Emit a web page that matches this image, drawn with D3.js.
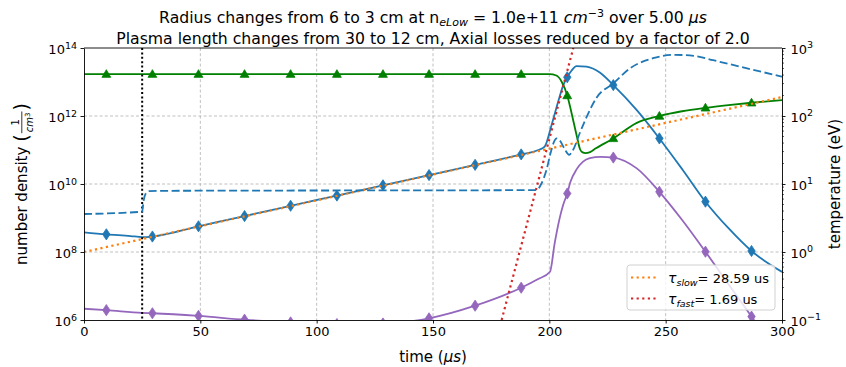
<!DOCTYPE html>
<html><head><meta charset="utf-8">
<script src="https://cdn.jsdelivr.net/npm/d3@7"></script>
<style>body{margin:0;background:#fff} text{font-family:"DejaVu Sans",sans-serif}</style>
</head><body><svg id="c" width="846" height="367"></svg>
<script>
// ---------------- data ----------------
const titleLines = [
  "Radius changes from 6 to 3 cm at n_eLow = 1.0e+11 cm^-3 over 5.00 µs",
  "Plasma length changes from 30 to 12 cm, Axial losses reduced by a factor of 2.0"
];
const xTicks = [0, 50, 100, 150, 200, 250, 300];
const densTicks = [1e6, 1e8, 1e10, 1e12, 1e14];
const tempTicks = [1e-1, 1e0, 1e1, 1e2, 1e3];
const markerTimes = [9.6, 29.4, 49.2, 69.0, 88.8, 108.7, 128.5, 148.3, 168.1, 187.9, 207.7, 227.5, 247.3, 267.1, 286.9];
const cutTime = 25;

// blue solid (density, left axis)
const neT = [0, 9.6, 20, 25, 29.4, 49.2, 69.0, 88.8, 108.7, 128.5, 148.3, 168.1, 187.9, 195, 198, 201, 204, 206, 207.7, 209.5, 211.7, 216, 221.7, 227.5, 237.5, 247.3, 257.5, 267.1, 277, 286.9, 300];
const neV = [3.8e8, 3.31e8, 2.95e8, 2.75e8, 2.85e8, 5.71e8, 1.14e9, 2.29e9, 4.57e9, 9.16e9, 1.83e10, 3.66e10, 7.41e10, 9.8e10, 1.26e11, 5.5e11, 2.95e12, 8.1e12, 1.38e13, 2.14e13, 2.95e13, 2.82e13, 1.9e13, 8.1e12, 1.51e12, 2.19e11, 2.5e10, 3.02e9, 5.0e8, 1.07e8, 2.6e7];
// green solid (density, left axis)
const n0T = [0, 9.6, 29.4, 49.2, 69.0, 88.8, 108.7, 128.5, 148.3, 168.1, 187.9, 200, 203, 205.3, 207.7, 209, 210.5, 212, 213.2, 214.3, 215.5, 217.5, 220, 227.5, 237.6, 247.3, 257, 267.1, 277, 286.9, 300];
const n0V = [1.7e13, 1.7e13, 1.7e13, 1.7e13, 1.7e13, 1.7e13, 1.7e13, 1.7e13, 1.7e13, 1.7e13, 1.7e13, 1.7e13, 1.55e13, 1.02e13, 4.0e12, 1.78e12, 6.3e11, 2.24e11, 1.05e11, 8.5e10, 8.1e10, 8.7e10, 1.12e11, 2.19e11, 6.3e11, 1.0e12, 1.38e12, 1.74e12, 2.09e12, 2.45e12, 2.95e12];
// purple solid (density, left axis)
const niT = [0, 9.6, 25, 29.4, 49.2, 69.0, 88.8, 108.7, 128.5, 148.3, 168.1, 187.9, 195, 200.3, 202.3, 204.6, 206, 207.7, 209, 211.7, 214.5, 217.4, 222, 227.5, 237.6, 247.3, 257, 267.1, 277, 286.9, 295, 300];
const niV = [2.14e6, 1.95e6, 1.62e6, 1.58e6, 1.32e6, 1.02e6, 8.5e5, 7.6e5, 7.9e5, 1.12e6, 2.63e6, 8.9e6, 1.58e7, 2.63e7, 1.82e8, 1.1e9, 2.5e9, 5.25e9, 1.12e10, 2.69e10, 4.57e10, 5.75e10, 6.3e10, 6.0e10, 2.88e10, 5.9e9, 8.9e8, 1.02e8, 1.12e7, 1.26e6, 2.0e5, 8e4];
// blue dashed (temperature, right axis)
const teT = [0, 25, 25.6, 26.5, 28, 35, 194.5, 196.5, 198.8, 200.5, 202, 203.1, 204.5, 206.5, 208.5, 210.2, 213.1, 216.5, 220.3, 227.5, 234.6, 244.6, 254, 262, 270.4, 285, 300];
const teV = [3.62, 3.92, 5.6, 7.2, 7.85, 7.94, 8.13, 10, 16.2, 28.2, 41.7, 46.8, 43.7, 33.1, 26.9, 31.6, 56.2, 105, 186, 302, 501, 708, 794, 767, 661, 501, 380];
// fitted exponentials (left axis), straight lines on the log scale
const slowT = [0, 300], slowV = [1e8, 3.6e12];
const fastT = [179.5, 210.3], fastV = [1e6, 1e14];
const legendLabels = [["τ", "slow", "= 28.59 us"], ["τ", "fast", "= 1.69 us"]];

// ---------------- drawing ----------------
const svg = d3.select("#c");
const L = 84, R = 782, T = 48, B = 320;
const x = d3.scaleLinear().domain([0, 300]).range([L, R]);
const yL = d3.scaleLog().domain([1e6, 1e14]).range([B, T]);
const yR = d3.scaleLog().domain([1e-1, 1e3]).range([B, T]);

svg.append("defs").append("clipPath").attr("id", "clip")
  .append("rect").attr("x", L).attr("y", T).attr("width", R - L).attr("height", B - T);

// grid
const grid = svg.append("g").attr("stroke", "#b0b0b0").attr("stroke-width", 0.8).attr("stroke-dasharray", "3,2.2");
xTicks.slice(1, -1).forEach(t => grid.append("line").attr("x1", x(t)).attr("x2", x(t)).attr("y1", T).attr("y2", B));
densTicks.slice(1, -1).forEach(v => grid.append("line").attr("x1", L).attr("x2", R).attr("y1", yL(v)).attr("y2", yL(v)));

const plot = svg.append("g").attr("clip-path", "url(#clip)");
function series(ts, vs, y, color, opts = {}) {
  const pts = ts.map((t, i) => [t, vs[i]]);
  const line = d3.line().x(d => x(d[0])).y(d => y(d[1])).curve(opts.linear ? d3.curveLinear : d3.curveMonotoneX);
  plot.append("path").datum(pts).attr("d", line).attr("fill", "none")
    .attr("stroke", color).attr("stroke-width", opts.w || 1.8)
    .attr("stroke-dasharray", opts.dash || null);
  if (opts.marker) {
    const mk = pts.filter(d => markerTimes.includes(d[0]));
    const sym = opts.marker === "d"
      ? "M0,-5.6L3.7,0L0,5.6L-3.7,0Z"
      : "M0,-4.5L4.4,3.2L-4.4,3.2Z";
    plot.selectAll(null).data(mk).enter().append("path")
      .attr("d", sym).attr("fill", color).attr("stroke", color).attr("stroke-width", 0.8)
      .attr("transform", d => `translate(${x(d[0])},${y(d[1])})`);
  }
}
series(neT, neV, yL, "#1f77b4", {marker: "d"});
series(n0T, n0V, yL, "#008000", {marker: "^"});
series(niT, niV, yL, "#9467bd", {marker: "d"});
// vertical dotted line
plot.append("line").attr("x1", x(cutTime)).attr("x2", x(cutTime)).attr("y1", T).attr("y2", B)
  .attr("stroke", "#000").attr("stroke-width", 2).attr("stroke-dasharray", "2,2.4");
series(slowT, slowV, yL, "#ff7f0e", {linear: true, w: 2.2, dash: "2.2,3.4"});
series(fastT, fastV, yL, "#d62728", {linear: true, w: 2.2, dash: "2.2,3.4"});
series(teT, teV, yR, "#1f77b4", {w: 1.8, dash: "8,3.5"});

// axes
function supLabels(sel) {
  sel.selectAll(".tick text").each(function(d) {
    const e = Math.round(Math.log10(d));
    const t = d3.select(this); t.text(null);
    t.append("tspan").text("10");
    t.append("tspan").attr("dy", "-0.55em").attr("font-size", "9.5px").text(String(e).replace("-", "\u2212"));
  });
}
const fontTick = "13px";
const ax = svg.append("g").attr("transform", `translate(0,${B})`)
  .call(d3.axisBottom(x).tickValues(xTicks).tickSize(3.5).tickPadding(3.5).tickSizeOuter(0));
ax.selectAll("text").attr("font-size", fontTick).attr("font-family", "DejaVu Sans").attr("fill", "#000");
const ayl = svg.append("g").attr("transform", `translate(${L},0)`)
  .call(d3.axisLeft(yL).tickValues(densTicks).tickSize(3.5).tickPadding(3.5).tickSizeOuter(0));
ayl.selectAll("text").attr("font-size", fontTick).attr("font-family", "DejaVu Sans").attr("fill", "#000").attr("dy", "0.45em");
supLabels(ayl);
const ayr = svg.append("g").attr("transform", `translate(${R},0)`)
  .call(d3.axisRight(yR).tickValues(tempTicks).tickSize(3.5).tickPadding(5).tickSizeOuter(0));
ayr.selectAll("text").attr("font-size", fontTick).attr("font-family", "DejaVu Sans").attr("fill", "#000").attr("dy", "0.4em");
supLabels(ayr);
// minor ticks right axis
const minors = [];
tempTicks.slice(0, -1).forEach(v => { for (let k = 2; k <= 9; k++) minors.push(v * k); });
svg.append("g").selectAll("line").data(minors).enter().append("line")
  .attr("x1", R).attr("x2", R + 2).attr("y1", d => yR(d)).attr("y2", d => yR(d))
  .attr("stroke", "#000").attr("stroke-width", 0.6);
svg.selectAll(".domain").attr("stroke", "#000").attr("stroke-width", 0.9);
svg.selectAll(".tick line").attr("stroke-width", 0.9);
// top spine
svg.append("line").attr("x1", L).attr("x2", R).attr("y1", T).attr("y2", T).attr("stroke", "#000").attr("stroke-width", 0.9);

// title
const tt = svg.append("g").attr("font-size", "15.7px").attr("text-anchor", "middle");
const t1 = tt.append("text").attr("x", (L + R) / 2).attr("y", 23);
t1.append("tspan").text("Radius changes from 6 to 3 cm at n");
t1.append("tspan").attr("font-size", "11px").attr("font-style", "italic").attr("dy", 3).text("eLow");
t1.append("tspan").attr("dy", -3).text(" = 1.0e+11 ");
t1.append("tspan").attr("font-style", "italic").text("cm");
t1.append("tspan").attr("font-size", "11px").attr("dy", -6).text("\u22123");
t1.append("tspan").attr("dy", 6).text(" over 5.00 ");
t1.append("tspan").attr("font-style", "italic").text("μs");
tt.append("text").attr("x", (L + R) / 2).attr("y", 44).text(titleLines[1]);

// x label
const xl = svg.append("text").attr("x", (L + R) / 2).attr("y", 362).attr("text-anchor", "middle").attr("font-size", "15px");
xl.append("tspan").text("time (");
xl.append("tspan").attr("font-style", "italic").text("μs");
xl.append("tspan").text(")");

// left y label with fraction
const gl = svg.append("g").attr("transform", `translate(27,${(T + B) / 2}) rotate(-90)`);
const inner = gl.append("g");
const p1 = inner.append("text").attr("font-size", "15px").attr("x", 0).attr("y", 0).text("number density");
let w = p1.node().getComputedTextLength() + 5;
const par1 = inner.append("text").attr("font-size", "19px").attr("x", w).attr("y", 1).text("(");
w += par1.node().getComputedTextLength() + 1;
const den = inner.append("text").attr("font-size", "10px").attr("y", 6);
den.append("tspan").attr("font-style", "italic").text("cm");
den.append("tspan").attr("font-size", "7px").attr("dy", -3.5).text("3");
const dw = den.node().getComputedTextLength();
den.attr("x", w + 1);
inner.append("text").attr("font-size", "10px").attr("text-anchor", "middle").attr("x", w + 1 + dw / 2).attr("y", -8).text("1");
inner.append("line").attr("x1", w).attr("x2", w + dw + 2).attr("y1", -5.2).attr("y2", -5.2).attr("stroke", "#000").attr("stroke-width", 0.8);
w += dw + 3;
const par2 = inner.append("text").attr("font-size", "19px").attr("x", w).attr("y", 1).text(")");
w += par2.node().getComputedTextLength();
inner.attr("transform", `translate(${-w / 2},0)`);

// right y label
svg.append("text").attr("transform", `translate(840,${(T + B) / 2}) rotate(-90)`)
  .attr("text-anchor", "middle").attr("font-size", "15px").text("temperature (eV)");

// legend
const lg = svg.append("g");
lg.append("rect").attr("x", 627).attr("y", 265).attr("width", 148).attr("height", 45).attr("rx", 3)
  .attr("fill", "#fff").attr("fill-opacity", 0.8).attr("stroke", "#cccccc").attr("stroke-width", 0.9);
const legColors = ["#ff7f0e", "#d62728"];
legendLabels.forEach((lab, i) => {
  const yy = 277.5 + i * 21;
  lg.append("line").attr("x1", 631).attr("x2", 658).attr("y1", yy).attr("y2", yy)
    .attr("stroke", legColors[i]).attr("stroke-width", 2.2).attr("stroke-dasharray", "2.2,3.4");
  const tx = lg.append("text").attr("x", 668).attr("y", yy + 5).attr("font-size", "13px");
  tx.append("tspan").attr("font-style", "italic").attr("font-size", "14px").text(lab[0]);
  tx.append("tspan").attr("font-style", "italic").attr("font-size", "9.5px").attr("dy", 3).text(lab[1]);
  tx.append("tspan").attr("dy", -3).text(lab[2]);
});
</script></body></html>
